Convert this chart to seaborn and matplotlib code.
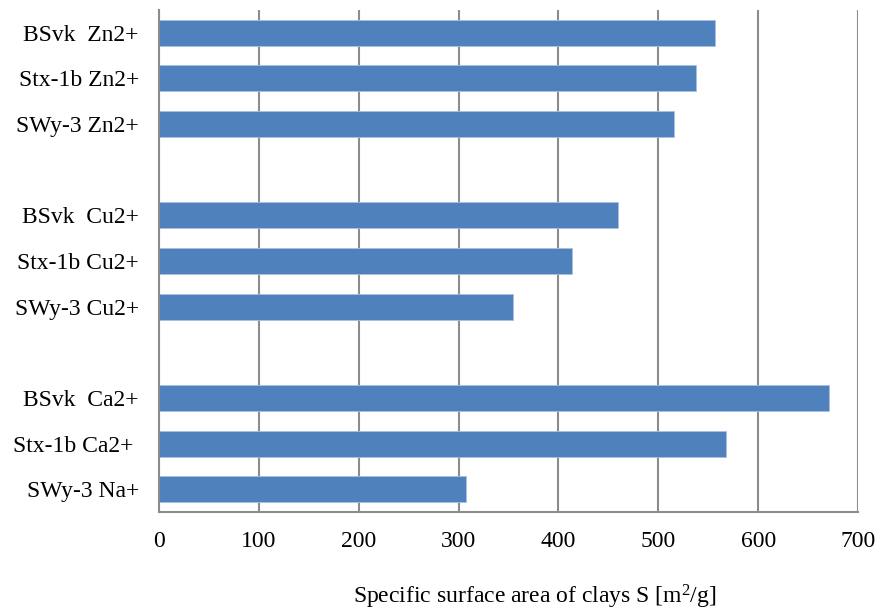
import seaborn as sns
import matplotlib.pyplot as plt
import numpy as np
import pandas as pd

# clay samples, top to bottom (blank entries are the gaps between groups)
samples = ["BSvk  Zn2+", "Stx-1b Zn2+", "SWy-3 Zn2+", "",
           "BSvk  Cu2+", "Stx-1b Cu2+", "SWy-3 Cu2+", " ",
           "BSvk  Ca2+", "Stx-1b Ca2+ ", "SWy-3 Na+"]
surface_area = [557, 538, 516, np.nan,
                460, 414, 355, np.nan,
                671, 568, 307]
x_ticks = [0, 100, 200, 300, 400, 500, 600, 700]

sns.set_theme(style="white")
plt.rcParams['font.family'] = ['Liberation Serif', 'DejaVu Serif']
plt.rcParams['mathtext.fontset'] = 'custom'
plt.rcParams['mathtext.rm'] = 'Liberation Serif'
plt.rcParams['mathtext.it'] = 'Liberation Serif:italic'

df = pd.DataFrame({"sample": samples, "S": surface_area})

fig = plt.figure(figsize=(8.77, 6.10), dpi=100)
ax = fig.add_axes([159 / 877, 1 - 512 / 610, (858 - 159) / 877, (512 - 10) / 610])

sns.barplot(data=df, y="sample", x="S", order=samples, orient="h",
            color="#4f81bd", saturation=1, width=0.57,
            edgecolor="#a9c0e0", linewidth=0.6, ax=ax)

ax.set_xlim(0, 700)
ax.set_xticks(x_ticks)
ax.set_xticklabels([str(t) for t in x_ticks])
ax.set_ylim(len(samples) - 0.5, -0.5)

ax.grid(axis="x", color="#8c8c8c", linewidth=1.5)
ax.grid(axis="y", visible=False)
ax.set_axisbelow(True)

for side in ["top", "right"]:
    ax.spines[side].set_visible(False)
for side in ["left", "bottom"]:
    ax.spines[side].set_color("#8c8c8c")
    ax.spines[side].set_linewidth(1.5)

ax.tick_params(axis="y", length=0, pad=14.5, labelsize=17, labelcolor="black")
ax.tick_params(axis="x", length=0, pad=14, labelsize=17, labelcolor="black")

ax.set_ylabel("")
ax.set_xlabel("Specific surface area of clays S [m$^{2}$/g]", fontsize=17,
              color="black")
ax.xaxis.set_label_coords(0.538, -(597 - 512) / 502)
ax.xaxis.label.set_va("center")

fig.savefig("out.png", dpi=100)
